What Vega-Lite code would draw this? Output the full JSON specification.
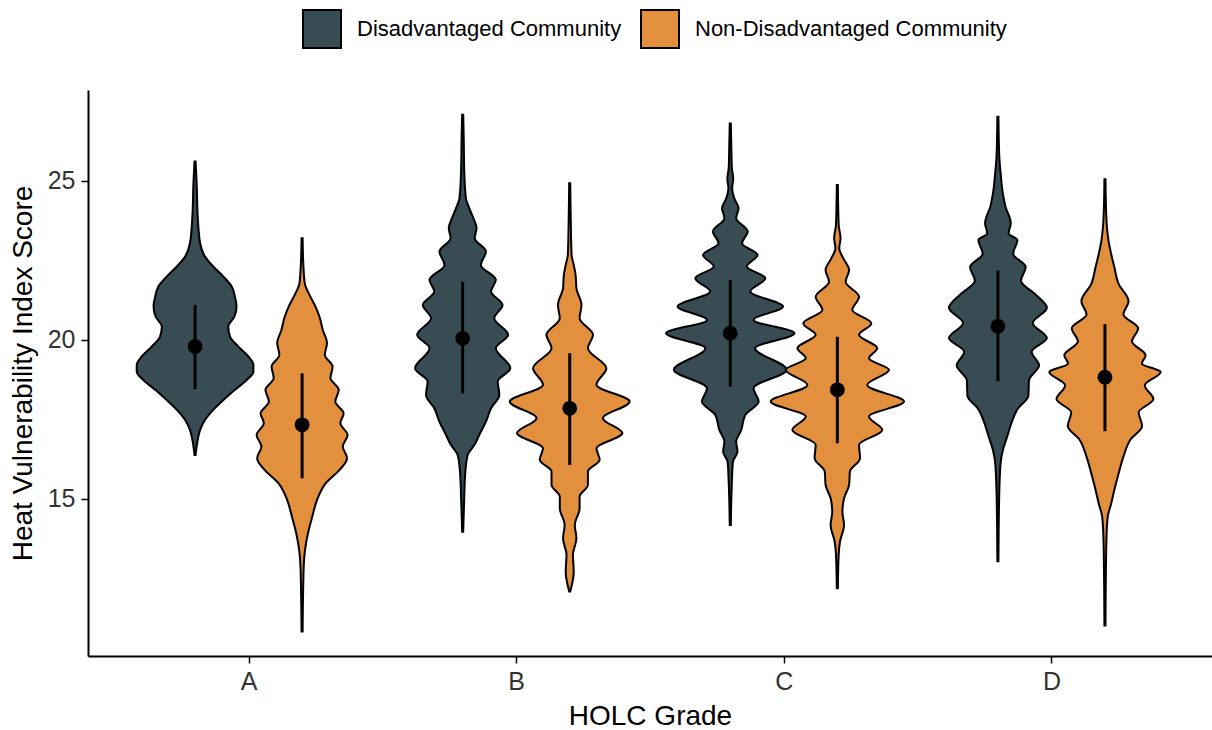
{
  "$schema": "https://vega.github.io/schema/vega-lite/v6.json",
  "width": 1124,
  "height": 566,
  "autosize": {"type": "none"},
  "padding": {"left": 88, "top": 90, "right": 0, "bottom": 74},
  "background": "white",
  "config": {
    "view": {"stroke": null},
    "font": "Liberation Sans",
    "axis": {
      "grid": false,
      "domainColor": "black",
      "domainWidth": 2,
      "tickColor": "black",
      "tickWidth": 1.5,
      "tickSize": 7,
      "labelColor": "#333333",
      "titleColor": "black",
      "titleFontWeight": "normal",
      "labelFont": "Liberation Sans",
      "titleFont": "Liberation Sans"
    }
  },
  "datasets": {
    "violins": [
      {"grade": "A", "group": "Disadvantaged Community", "hvi": 25.61, "w": 0.002},
      {"grade": "A", "group": "Disadvantaged Community", "hvi": 24.93, "w": 0.006},
      {"grade": "A", "group": "Disadvantaged Community", "hvi": 23.88, "w": 0.010},
      {"grade": "A", "group": "Disadvantaged Community", "hvi": 23.04, "w": 0.019},
      {"grade": "A", "group": "Disadvantaged Community", "hvi": 22.62, "w": 0.037},
      {"grade": "A", "group": "Disadvantaged Community", "hvi": 22.31, "w": 0.068},
      {"grade": "A", "group": "Disadvantaged Community", "hvi": 21.99, "w": 0.106},
      {"grade": "A", "group": "Disadvantaged Community", "hvi": 21.68, "w": 0.137},
      {"grade": "A", "group": "Disadvantaged Community", "hvi": 21.36, "w": 0.149},
      {"grade": "A", "group": "Disadvantaged Community", "hvi": 21.05, "w": 0.155},
      {"grade": "A", "group": "Disadvantaged Community", "hvi": 20.73, "w": 0.147},
      {"grade": "A", "group": "Disadvantaged Community", "hvi": 20.42, "w": 0.124},
      {"grade": "A", "group": "Disadvantaged Community", "hvi": 20.10, "w": 0.131},
      {"grade": "A", "group": "Disadvantaged Community", "hvi": 19.79, "w": 0.162},
      {"grade": "A", "group": "Disadvantaged Community", "hvi": 19.48, "w": 0.199},
      {"grade": "A", "group": "Disadvantaged Community", "hvi": 19.21, "w": 0.218},
      {"grade": "A", "group": "Disadvantaged Community", "hvi": 19.00, "w": 0.218},
      {"grade": "A", "group": "Disadvantaged Community", "hvi": 18.74, "w": 0.193},
      {"grade": "A", "group": "Disadvantaged Community", "hvi": 18.43, "w": 0.149},
      {"grade": "A", "group": "Disadvantaged Community", "hvi": 18.11, "w": 0.106},
      {"grade": "A", "group": "Disadvantaged Community", "hvi": 17.80, "w": 0.068},
      {"grade": "A", "group": "Disadvantaged Community", "hvi": 17.48, "w": 0.037},
      {"grade": "A", "group": "Disadvantaged Community", "hvi": 17.17, "w": 0.019},
      {"grade": "A", "group": "Disadvantaged Community", "hvi": 16.86, "w": 0.010},
      {"grade": "A", "group": "Disadvantaged Community", "hvi": 16.38, "w": 0.002},

      {"grade": "A", "group": "Non-Disadvantaged Community", "hvi": 23.20, "w": 0.002},
      {"grade": "A", "group": "Non-Disadvantaged Community", "hvi": 22.31, "w": 0.005},
      {"grade": "A", "group": "Non-Disadvantaged Community", "hvi": 21.78, "w": 0.010},
      {"grade": "A", "group": "Non-Disadvantaged Community", "hvi": 21.36, "w": 0.031},
      {"grade": "A", "group": "Non-Disadvantaged Community", "hvi": 21.05, "w": 0.050},
      {"grade": "A", "group": "Non-Disadvantaged Community", "hvi": 20.73, "w": 0.065},
      {"grade": "A", "group": "Non-Disadvantaged Community", "hvi": 20.32, "w": 0.077},
      {"grade": "A", "group": "Non-Disadvantaged Community", "hvi": 19.90, "w": 0.093},
      {"grade": "A", "group": "Non-Disadvantaged Community", "hvi": 19.53, "w": 0.085},
      {"grade": "A", "group": "Non-Disadvantaged Community", "hvi": 19.16, "w": 0.114},
      {"grade": "A", "group": "Non-Disadvantaged Community", "hvi": 18.80, "w": 0.106},
      {"grade": "A", "group": "Non-Disadvantaged Community", "hvi": 18.43, "w": 0.137},
      {"grade": "A", "group": "Non-Disadvantaged Community", "hvi": 18.06, "w": 0.124},
      {"grade": "A", "group": "Non-Disadvantaged Community", "hvi": 17.69, "w": 0.155},
      {"grade": "A", "group": "Non-Disadvantaged Community", "hvi": 17.38, "w": 0.143},
      {"grade": "A", "group": "Non-Disadvantaged Community", "hvi": 17.01, "w": 0.170},
      {"grade": "A", "group": "Non-Disadvantaged Community", "hvi": 16.65, "w": 0.152},
      {"grade": "A", "group": "Non-Disadvantaged Community", "hvi": 16.28, "w": 0.168},
      {"grade": "A", "group": "Non-Disadvantaged Community", "hvi": 15.91, "w": 0.140},
      {"grade": "A", "group": "Non-Disadvantaged Community", "hvi": 15.49, "w": 0.088},
      {"grade": "A", "group": "Non-Disadvantaged Community", "hvi": 14.97, "w": 0.056},
      {"grade": "A", "group": "Non-Disadvantaged Community", "hvi": 14.44, "w": 0.038},
      {"grade": "A", "group": "Non-Disadvantaged Community", "hvi": 13.92, "w": 0.022},
      {"grade": "A", "group": "Non-Disadvantaged Community", "hvi": 13.40, "w": 0.011},
      {"grade": "A", "group": "Non-Disadvantaged Community", "hvi": 12.87, "w": 0.006},
      {"grade": "A", "group": "Non-Disadvantaged Community", "hvi": 10.83, "w": 0.002},

      {"grade": "B", "group": "Disadvantaged Community", "hvi": 27.08, "w": 0.002},
      {"grade": "B", "group": "Disadvantaged Community", "hvi": 26.34, "w": 0.004},
      {"grade": "B", "group": "Disadvantaged Community", "hvi": 25.29, "w": 0.006},
      {"grade": "B", "group": "Disadvantaged Community", "hvi": 24.45, "w": 0.012},
      {"grade": "B", "group": "Disadvantaged Community", "hvi": 24.14, "w": 0.025},
      {"grade": "B", "group": "Disadvantaged Community", "hvi": 23.83, "w": 0.040},
      {"grade": "B", "group": "Disadvantaged Community", "hvi": 23.51, "w": 0.052},
      {"grade": "B", "group": "Disadvantaged Community", "hvi": 23.20, "w": 0.045},
      {"grade": "B", "group": "Disadvantaged Community", "hvi": 22.78, "w": 0.087},
      {"grade": "B", "group": "Disadvantaged Community", "hvi": 22.36, "w": 0.068},
      {"grade": "B", "group": "Disadvantaged Community", "hvi": 21.89, "w": 0.124},
      {"grade": "B", "group": "Disadvantaged Community", "hvi": 21.52, "w": 0.106},
      {"grade": "B", "group": "Disadvantaged Community", "hvi": 21.10, "w": 0.149},
      {"grade": "B", "group": "Disadvantaged Community", "hvi": 20.68, "w": 0.118},
      {"grade": "B", "group": "Disadvantaged Community", "hvi": 20.16, "w": 0.170},
      {"grade": "B", "group": "Disadvantaged Community", "hvi": 19.74, "w": 0.124},
      {"grade": "B", "group": "Disadvantaged Community", "hvi": 19.11, "w": 0.178},
      {"grade": "B", "group": "Disadvantaged Community", "hvi": 18.69, "w": 0.131},
      {"grade": "B", "group": "Disadvantaged Community", "hvi": 18.27, "w": 0.137},
      {"grade": "B", "group": "Disadvantaged Community", "hvi": 17.85, "w": 0.106},
      {"grade": "B", "group": "Disadvantaged Community", "hvi": 17.43, "w": 0.087},
      {"grade": "B", "group": "Disadvantaged Community", "hvi": 17.01, "w": 0.062},
      {"grade": "B", "group": "Disadvantaged Community", "hvi": 16.70, "w": 0.044},
      {"grade": "B", "group": "Disadvantaged Community", "hvi": 16.39, "w": 0.019},
      {"grade": "B", "group": "Disadvantaged Community", "hvi": 15.86, "w": 0.010},
      {"grade": "B", "group": "Disadvantaged Community", "hvi": 14.81, "w": 0.005},
      {"grade": "B", "group": "Disadvantaged Community", "hvi": 13.97, "w": 0.002},

      {"grade": "B", "group": "Non-Disadvantaged Community", "hvi": 24.93, "w": 0.002},
      {"grade": "B", "group": "Non-Disadvantaged Community", "hvi": 23.72, "w": 0.004},
      {"grade": "B", "group": "Non-Disadvantaged Community", "hvi": 22.67, "w": 0.007},
      {"grade": "B", "group": "Non-Disadvantaged Community", "hvi": 22.36, "w": 0.015},
      {"grade": "B", "group": "Non-Disadvantaged Community", "hvi": 22.04, "w": 0.022},
      {"grade": "B", "group": "Non-Disadvantaged Community", "hvi": 21.62, "w": 0.025},
      {"grade": "B", "group": "Non-Disadvantaged Community", "hvi": 21.10, "w": 0.044},
      {"grade": "B", "group": "Non-Disadvantaged Community", "hvi": 20.68, "w": 0.037},
      {"grade": "B", "group": "Non-Disadvantaged Community", "hvi": 20.16, "w": 0.087},
      {"grade": "B", "group": "Non-Disadvantaged Community", "hvi": 19.74, "w": 0.068},
      {"grade": "B", "group": "Non-Disadvantaged Community", "hvi": 19.11, "w": 0.137},
      {"grade": "B", "group": "Non-Disadvantaged Community", "hvi": 18.59, "w": 0.100},
      {"grade": "B", "group": "Non-Disadvantaged Community", "hvi": 18.06, "w": 0.224},
      {"grade": "B", "group": "Non-Disadvantaged Community", "hvi": 17.54, "w": 0.124},
      {"grade": "B", "group": "Non-Disadvantaged Community", "hvi": 17.07, "w": 0.197},
      {"grade": "B", "group": "Non-Disadvantaged Community", "hvi": 16.59, "w": 0.100},
      {"grade": "B", "group": "Non-Disadvantaged Community", "hvi": 16.23, "w": 0.112},
      {"grade": "B", "group": "Non-Disadvantaged Community", "hvi": 15.86, "w": 0.068},
      {"grade": "B", "group": "Non-Disadvantaged Community", "hvi": 15.44, "w": 0.068},
      {"grade": "B", "group": "Non-Disadvantaged Community", "hvi": 15.07, "w": 0.037},
      {"grade": "B", "group": "Non-Disadvantaged Community", "hvi": 14.71, "w": 0.037},
      {"grade": "B", "group": "Non-Disadvantaged Community", "hvi": 14.18, "w": 0.019},
      {"grade": "B", "group": "Non-Disadvantaged Community", "hvi": 13.76, "w": 0.025},
      {"grade": "B", "group": "Non-Disadvantaged Community", "hvi": 13.24, "w": 0.012},
      {"grade": "B", "group": "Non-Disadvantaged Community", "hvi": 12.71, "w": 0.015},
      {"grade": "B", "group": "Non-Disadvantaged Community", "hvi": 12.09, "w": 0.002},

      {"grade": "C", "group": "Disadvantaged Community", "hvi": 26.81, "w": 0.002},
      {"grade": "C", "group": "Disadvantaged Community", "hvi": 26.03, "w": 0.004},
      {"grade": "C", "group": "Disadvantaged Community", "hvi": 25.40, "w": 0.006},
      {"grade": "C", "group": "Disadvantaged Community", "hvi": 25.08, "w": 0.011},
      {"grade": "C", "group": "Disadvantaged Community", "hvi": 24.77, "w": 0.007},
      {"grade": "C", "group": "Disadvantaged Community", "hvi": 24.45, "w": 0.015},
      {"grade": "C", "group": "Disadvantaged Community", "hvi": 24.14, "w": 0.031},
      {"grade": "C", "group": "Disadvantaged Community", "hvi": 23.83, "w": 0.022},
      {"grade": "C", "group": "Disadvantaged Community", "hvi": 23.41, "w": 0.065},
      {"grade": "C", "group": "Disadvantaged Community", "hvi": 23.04, "w": 0.044},
      {"grade": "C", "group": "Disadvantaged Community", "hvi": 22.67, "w": 0.102},
      {"grade": "C", "group": "Disadvantaged Community", "hvi": 22.31, "w": 0.062},
      {"grade": "C", "group": "Disadvantaged Community", "hvi": 21.94, "w": 0.131},
      {"grade": "C", "group": "Disadvantaged Community", "hvi": 21.52, "w": 0.075},
      {"grade": "C", "group": "Disadvantaged Community", "hvi": 21.05, "w": 0.197},
      {"grade": "C", "group": "Disadvantaged Community", "hvi": 20.63, "w": 0.087},
      {"grade": "C", "group": "Disadvantaged Community", "hvi": 20.21, "w": 0.240},
      {"grade": "C", "group": "Disadvantaged Community", "hvi": 19.74, "w": 0.093},
      {"grade": "C", "group": "Disadvantaged Community", "hvi": 19.06, "w": 0.211},
      {"grade": "C", "group": "Disadvantaged Community", "hvi": 18.48, "w": 0.087},
      {"grade": "C", "group": "Disadvantaged Community", "hvi": 18.06, "w": 0.106},
      {"grade": "C", "group": "Disadvantaged Community", "hvi": 17.64, "w": 0.056},
      {"grade": "C", "group": "Disadvantaged Community", "hvi": 17.17, "w": 0.041},
      {"grade": "C", "group": "Disadvantaged Community", "hvi": 16.80, "w": 0.022},
      {"grade": "C", "group": "Disadvantaged Community", "hvi": 16.49, "w": 0.027},
      {"grade": "C", "group": "Disadvantaged Community", "hvi": 16.17, "w": 0.010},
      {"grade": "C", "group": "Disadvantaged Community", "hvi": 15.54, "w": 0.006},
      {"grade": "C", "group": "Disadvantaged Community", "hvi": 14.18, "w": 0.002},

      {"grade": "C", "group": "Non-Disadvantaged Community", "hvi": 24.87, "w": 0.002},
      {"grade": "C", "group": "Non-Disadvantaged Community", "hvi": 23.62, "w": 0.005},
      {"grade": "C", "group": "Non-Disadvantaged Community", "hvi": 23.20, "w": 0.012},
      {"grade": "C", "group": "Non-Disadvantaged Community", "hvi": 22.88, "w": 0.007},
      {"grade": "C", "group": "Non-Disadvantaged Community", "hvi": 22.57, "w": 0.022},
      {"grade": "C", "group": "Non-Disadvantaged Community", "hvi": 22.20, "w": 0.044},
      {"grade": "C", "group": "Non-Disadvantaged Community", "hvi": 21.83, "w": 0.031},
      {"grade": "C", "group": "Non-Disadvantaged Community", "hvi": 21.36, "w": 0.081},
      {"grade": "C", "group": "Non-Disadvantaged Community", "hvi": 20.94, "w": 0.056},
      {"grade": "C", "group": "Non-Disadvantaged Community", "hvi": 20.52, "w": 0.127},
      {"grade": "C", "group": "Non-Disadvantaged Community", "hvi": 20.16, "w": 0.081},
      {"grade": "C", "group": "Non-Disadvantaged Community", "hvi": 19.74, "w": 0.149},
      {"grade": "C", "group": "Non-Disadvantaged Community", "hvi": 19.42, "w": 0.118},
      {"grade": "C", "group": "Non-Disadvantaged Community", "hvi": 19.06, "w": 0.193},
      {"grade": "C", "group": "Non-Disadvantaged Community", "hvi": 18.58, "w": 0.112},
      {"grade": "C", "group": "Non-Disadvantaged Community", "hvi": 18.06, "w": 0.249},
      {"grade": "C", "group": "Non-Disadvantaged Community", "hvi": 17.59, "w": 0.118},
      {"grade": "C", "group": "Non-Disadvantaged Community", "hvi": 17.17, "w": 0.168},
      {"grade": "C", "group": "Non-Disadvantaged Community", "hvi": 16.70, "w": 0.081},
      {"grade": "C", "group": "Non-Disadvantaged Community", "hvi": 16.28, "w": 0.085},
      {"grade": "C", "group": "Non-Disadvantaged Community", "hvi": 15.86, "w": 0.047},
      {"grade": "C", "group": "Non-Disadvantaged Community", "hvi": 15.44, "w": 0.044},
      {"grade": "C", "group": "Non-Disadvantaged Community", "hvi": 15.02, "w": 0.025},
      {"grade": "C", "group": "Non-Disadvantaged Community", "hvi": 14.60, "w": 0.019},
      {"grade": "C", "group": "Non-Disadvantaged Community", "hvi": 14.18, "w": 0.025},
      {"grade": "C", "group": "Non-Disadvantaged Community", "hvi": 13.66, "w": 0.010},
      {"grade": "C", "group": "Non-Disadvantaged Community", "hvi": 13.24, "w": 0.005},
      {"grade": "C", "group": "Non-Disadvantaged Community", "hvi": 12.19, "w": 0.002},

      {"grade": "D", "group": "Disadvantaged Community", "hvi": 27.02, "w": 0.002},
      {"grade": "D", "group": "Disadvantaged Community", "hvi": 25.80, "w": 0.005},
      {"grade": "D", "group": "Disadvantaged Community", "hvi": 25.26, "w": 0.010},
      {"grade": "D", "group": "Disadvantaged Community", "hvi": 24.63, "w": 0.018},
      {"grade": "D", "group": "Disadvantaged Community", "hvi": 24.20, "w": 0.028},
      {"grade": "D", "group": "Disadvantaged Community", "hvi": 23.67, "w": 0.048},
      {"grade": "D", "group": "Disadvantaged Community", "hvi": 23.35, "w": 0.040},
      {"grade": "D", "group": "Disadvantaged Community", "hvi": 23.14, "w": 0.073},
      {"grade": "D", "group": "Disadvantaged Community", "hvi": 22.71, "w": 0.057},
      {"grade": "D", "group": "Disadvantaged Community", "hvi": 22.29, "w": 0.104},
      {"grade": "D", "group": "Disadvantaged Community", "hvi": 21.86, "w": 0.086},
      {"grade": "D", "group": "Disadvantaged Community", "hvi": 21.44, "w": 0.139},
      {"grade": "D", "group": "Disadvantaged Community", "hvi": 21.01, "w": 0.183},
      {"grade": "D", "group": "Disadvantaged Community", "hvi": 20.53, "w": 0.130},
      {"grade": "D", "group": "Disadvantaged Community", "hvi": 20.06, "w": 0.183},
      {"grade": "D", "group": "Disadvantaged Community", "hvi": 19.63, "w": 0.126},
      {"grade": "D", "group": "Disadvantaged Community", "hvi": 19.20, "w": 0.154},
      {"grade": "D", "group": "Disadvantaged Community", "hvi": 18.73, "w": 0.116},
      {"grade": "D", "group": "Disadvantaged Community", "hvi": 18.25, "w": 0.114},
      {"grade": "D", "group": "Disadvantaged Community", "hvi": 17.82, "w": 0.073},
      {"grade": "D", "group": "Disadvantaged Community", "hvi": 17.40, "w": 0.051},
      {"grade": "D", "group": "Disadvantaged Community", "hvi": 16.97, "w": 0.035},
      {"grade": "D", "group": "Disadvantaged Community", "hvi": 16.55, "w": 0.019},
      {"grade": "D", "group": "Disadvantaged Community", "hvi": 16.12, "w": 0.010},
      {"grade": "D", "group": "Disadvantaged Community", "hvi": 15.16, "w": 0.005},
      {"grade": "D", "group": "Disadvantaged Community", "hvi": 13.04, "w": 0.002},

      {"grade": "D", "group": "Non-Disadvantaged Community", "hvi": 25.05, "w": 0.002},
      {"grade": "D", "group": "Non-Disadvantaged Community", "hvi": 23.88, "w": 0.005},
      {"grade": "D", "group": "Non-Disadvantaged Community", "hvi": 23.14, "w": 0.013},
      {"grade": "D", "group": "Non-Disadvantaged Community", "hvi": 22.71, "w": 0.023},
      {"grade": "D", "group": "Non-Disadvantaged Community", "hvi": 22.29, "w": 0.035},
      {"grade": "D", "group": "Non-Disadvantaged Community", "hvi": 21.76, "w": 0.051},
      {"grade": "D", "group": "Non-Disadvantaged Community", "hvi": 21.22, "w": 0.088},
      {"grade": "D", "group": "Non-Disadvantaged Community", "hvi": 20.80, "w": 0.069},
      {"grade": "D", "group": "Non-Disadvantaged Community", "hvi": 20.37, "w": 0.124},
      {"grade": "D", "group": "Non-Disadvantaged Community", "hvi": 19.95, "w": 0.101},
      {"grade": "D", "group": "Non-Disadvantaged Community", "hvi": 19.52, "w": 0.152},
      {"grade": "D", "group": "Non-Disadvantaged Community", "hvi": 19.26, "w": 0.138},
      {"grade": "D", "group": "Non-Disadvantaged Community", "hvi": 18.99, "w": 0.208},
      {"grade": "D", "group": "Non-Disadvantaged Community", "hvi": 18.57, "w": 0.149},
      {"grade": "D", "group": "Non-Disadvantaged Community", "hvi": 18.14, "w": 0.181},
      {"grade": "D", "group": "Non-Disadvantaged Community", "hvi": 17.72, "w": 0.126},
      {"grade": "D", "group": "Non-Disadvantaged Community", "hvi": 17.29, "w": 0.139},
      {"grade": "D", "group": "Non-Disadvantaged Community", "hvi": 16.86, "w": 0.095},
      {"grade": "D", "group": "Non-Disadvantaged Community", "hvi": 16.33, "w": 0.069},
      {"grade": "D", "group": "Non-Disadvantaged Community", "hvi": 15.80, "w": 0.051},
      {"grade": "D", "group": "Non-Disadvantaged Community", "hvi": 15.38, "w": 0.038},
      {"grade": "D", "group": "Non-Disadvantaged Community", "hvi": 14.85, "w": 0.023},
      {"grade": "D", "group": "Non-Disadvantaged Community", "hvi": 14.42, "w": 0.010},
      {"grade": "D", "group": "Non-Disadvantaged Community", "hvi": 13.57, "w": 0.005},
      {"grade": "D", "group": "Non-Disadvantaged Community", "hvi": 11.02, "w": 0.002}
    ],
    "stats": [
      {"grade": "A", "group": "Disadvantaged Community", "mean": 19.79, "lo": 18.45, "hi": 21.10},
      {"grade": "A", "group": "Non-Disadvantaged Community", "mean": 17.33, "lo": 15.65, "hi": 18.95},
      {"grade": "B", "group": "Disadvantaged Community", "mean": 20.05, "lo": 18.32, "hi": 21.83},
      {"grade": "B", "group": "Non-Disadvantaged Community", "mean": 17.85, "lo": 16.07, "hi": 19.58},
      {"grade": "C", "group": "Disadvantaged Community", "mean": 20.21, "lo": 18.53, "hi": 21.89},
      {"grade": "C", "group": "Non-Disadvantaged Community", "mean": 18.43, "lo": 16.75, "hi": 20.10},
      {"grade": "D", "group": "Disadvantaged Community", "mean": 20.43, "lo": 18.70, "hi": 22.18},
      {"grade": "D", "group": "Non-Disadvantaged Community", "mean": 18.83, "lo": 17.13, "hi": 20.50}
    ]
  },
  "layer": [
    {
      "data": {"name": "violins"},
      "transform": [
        {"calculate": "indexof(['A','B','C','D'], datum.grade) + 1 + (datum.group === 'Disadvantaged Community' ? -0.2 : 0.2)", "as": "xc"},
        {"calculate": "datum.xc - datum.w", "as": "xl"},
        {"calculate": "datum.xc + datum.w", "as": "xr"}
      ],
      "mark": {"type": "area", "orient": "horizontal", "interpolate": "monotone", "stroke": "black", "strokeWidth": 2, "opacity": 1, "fillOpacity": 1},
      "encoding": {
        "y": {
          "field": "hvi", "type": "quantitative",
          "scale": {"domain": [10.06, 27.86], "nice": false, "zero": false},
          "axis": {"values": [15, 20, 25], "title": "Heat Vulnerability Index Score", "titleFontSize": 28, "labelFontSize": 25, "labelPadding": 6, "titlePadding": 10}
        },
        "x": {
          "field": "xl", "type": "quantitative",
          "scale": {"domain": [0.4, 4.6], "nice": false, "zero": false},
          "axis": {"values": [1, 2, 3, 4], "labelExpr": "['A','B','C','D'][datum.value - 1]", "title": "HOLC Grade", "titleFontSize": 28, "labelFontSize": 25, "labelPadding": 6, "titlePadding": 8}
        },
        "x2": {"field": "xr"},
        "color": {
          "field": "group", "type": "nominal",
          "scale": {"domain": ["Disadvantaged Community", "Non-Disadvantaged Community"], "range": ["#384c53", "#e28f3e"]},
          "legend": {
            "title": null, "orient": "none", "direction": "horizontal",
            "legendX": 214, "legendY": -81,
            "symbolType": "square", "symbolSize": 1444,
            "symbolStrokeColor": "black", "symbolStrokeWidth": 2, "symbolOpacity": 1,
            "labelFontSize": 22, "labelColor": "black", "labelOffset": 15, "labelLimit": 500,
            "columnPadding": 15, "padding": 0
          }
        },
        "detail": {"field": "grade"}
      }
    },
    {
      "data": {"name": "stats"},
      "transform": [
        {"calculate": "indexof(['A','B','C','D'], datum.grade) + 1 + (datum.group === 'Disadvantaged Community' ? -0.2 : 0.2)", "as": "xc"}
      ],
      "mark": {"type": "rule", "color": "black", "strokeWidth": 3},
      "encoding": {
        "x": {"field": "xc", "type": "quantitative"},
        "y": {"field": "lo", "type": "quantitative"},
        "y2": {"field": "hi"}
      }
    },
    {
      "data": {"name": "stats"},
      "transform": [
        {"calculate": "indexof(['A','B','C','D'], datum.grade) + 1 + (datum.group === 'Disadvantaged Community' ? -0.2 : 0.2)", "as": "xc"}
      ],
      "mark": {"type": "point", "filled": true, "color": "black", "opacity": 1, "size": 220},
      "encoding": {
        "x": {"field": "xc", "type": "quantitative"},
        "y": {"field": "mean", "type": "quantitative"}
      }
    }
  ]
}
